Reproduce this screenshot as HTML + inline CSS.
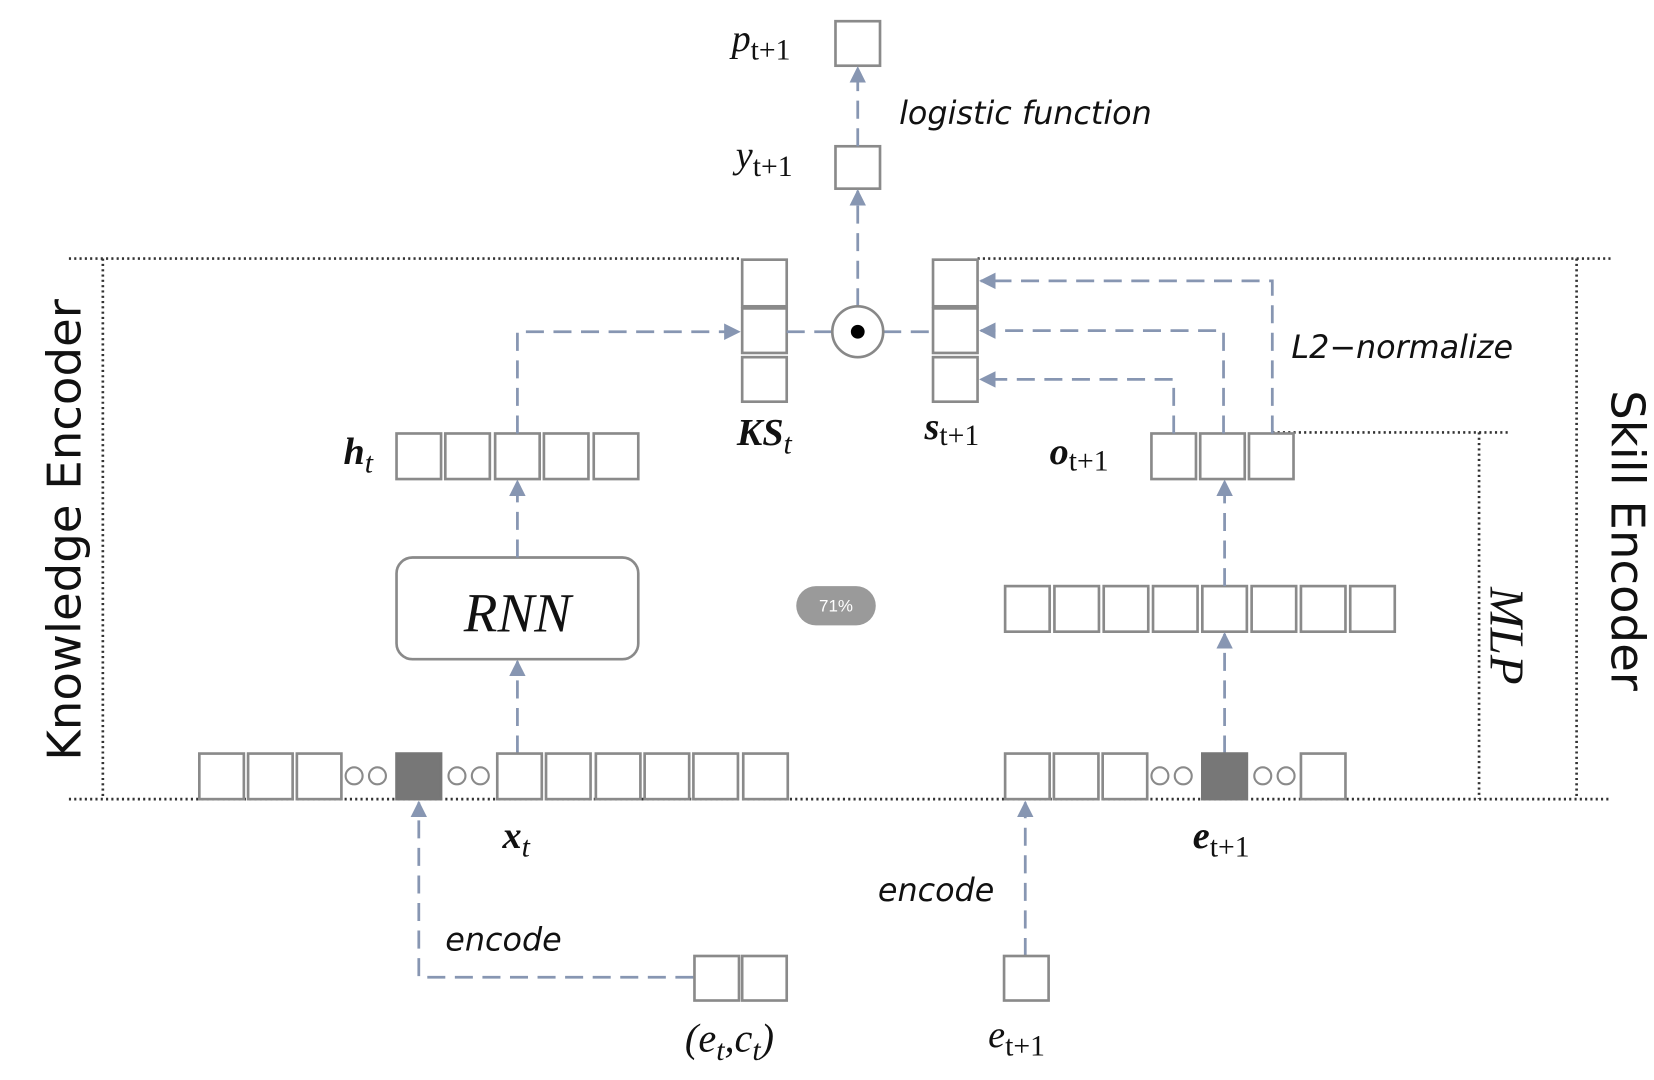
<!DOCTYPE html>
<html><head><meta charset="utf-8"><style>
html,body{margin:0;padding:0;background:#fff;}
svg{display:block;}
.bx{fill:#fff;stroke:#8a8a8a;stroke-width:2.5;}
.ar{stroke:#8796b2;stroke-width:2.6;stroke-dasharray:17 9;fill:none;}
.dot{stroke:#333;stroke-width:2.5;stroke-dasharray:2 3;fill:none;}
.lab{font-family:"Liberation Serif",serif;font-style:italic;fill:#111;}
.sans{font-family:"DejaVu Sans","Liberation Sans",sans-serif;fill:#111;}
</style></head><body>
<svg width="1654" height="1080" viewBox="0 0 1560 1019" preserveAspectRatio="none" xmlns="http://www.w3.org/2000/svg">
<defs><marker id="ah" viewBox="0 0 10 10" refX="9" refY="5" markerWidth="6" markerHeight="6" orient="auto"><path d="M0,0L10,5L0,10z" fill="#8796b2"/></marker></defs>

<g>
<line class="dot" x1="65" y1="244" x2="700" y2="244"/>
<line class="dot" x1="922" y1="244" x2="1520" y2="244"/>
<line class="dot" x1="65" y1="754" x2="1520" y2="754"/>
<line class="dot" x1="97" y1="244" x2="97" y2="754"/>
<line class="dot" x1="1487" y1="244" x2="1487" y2="754"/>
<line class="dot" x1="1200" y1="408" x2="1425" y2="408"/>
<line class="dot" x1="1395" y1="408" x2="1395" y2="754"/>
</g>

<text class="sans" font-size="44" transform="translate(76,500) rotate(-90)" text-anchor="middle">Knowledge Encoder</text>
<text class="sans" font-size="44" transform="translate(1520,510) rotate(90)" text-anchor="middle">Skill Encoder</text>
<text class="lab" font-size="46" transform="translate(1406,600) rotate(90)" text-anchor="middle">MLP</text>

<rect class="bx" x="788" y="20" width="42" height="42"/>
<rect class="bx" x="788" y="138" width="42" height="40"/>
<text class="lab" font-size="36" x="690" y="48">p<tspan font-size="28" dy="8" font-style="normal">t+1</tspan></text>
<text class="lab" font-size="36" x="694" y="158">y<tspan font-size="28" dy="8" font-style="normal">t+1</tspan></text>
<text class="sans" font-style="italic" font-size="30" x="848" y="117">logistic function</text>
<line class="ar" x1="809" y1="138" x2="809" y2="64" marker-end="url(#ah)"/>
<line class="ar" x1="809" y1="289" x2="809" y2="180" marker-end="url(#ah)"/>

<g>
<rect class="bx" x="700" y="245" width="42" height="44"/><rect class="bx" x="700" y="291" width="42" height="42"/><rect class="bx" x="700" y="337" width="42" height="42"/></g>
<g>
<rect class="bx" x="880" y="245" width="42" height="44"/><rect class="bx" x="880" y="291" width="42" height="42"/><rect class="bx" x="880" y="337" width="42" height="42"/></g>
<line class="ar" x1="742" y1="313" x2="785" y2="313"/>
<line class="ar" x1="833" y1="313" x2="880" y2="313"/>
<circle cx="809" cy="313" r="24" fill="#fff" stroke="#888" stroke-width="2.5"/>
<circle cx="809" cy="313" r="6.5" fill="#000"/>
<text class="lab" font-weight="bold" font-size="36" x="695" y="420">KS<tspan font-size="28" dy="8" font-weight="normal">t</tspan></text>
<text class="lab" font-weight="bold" font-size="36" x="872" y="414">s<tspan font-size="28" dy="6" font-weight="normal" font-style="normal">t+1</tspan></text>

<g>
<rect class="bx" x="374" y="409" width="42" height="43"/><rect class="bx" x="420" y="409" width="42" height="43"/><rect class="bx" x="467" y="409" width="42" height="43"/><rect class="bx" x="513" y="409" width="42" height="43"/><rect class="bx" x="560" y="409" width="42" height="43"/></g>
<text class="lab" font-weight="bold" font-size="36" x="324" y="438">h<tspan font-size="28" dy="8" font-weight="normal">t</tspan></text>
<polyline class="ar" points="488,409 488,313 697,313" marker-end="url(#ah)"/>
<rect x="374" y="526" width="228" height="96" rx="15" fill="#fff" stroke="#8a8a8a" stroke-width="2.5"/>
<text class="lab" font-size="52" x="488" y="596" text-anchor="middle">RNN</text>
<line class="ar" x1="488" y1="526" x2="488" y2="454" marker-end="url(#ah)"/>
<line class="ar" x1="488" y1="711" x2="488" y2="624" marker-end="url(#ah)"/>

<g>
<rect class="bx" x="188" y="711" width="42" height="43"/><rect class="bx" x="234" y="711" width="42" height="43"/><rect class="bx" x="280" y="711" width="42" height="43"/>
<circle cx="334" cy="732" r="8" fill="none" stroke="#8a8a8a" stroke-width="2"/><circle cx="356" cy="732" r="8" fill="none" stroke="#8a8a8a" stroke-width="2"/>
<rect x="374" y="711" width="42" height="43" fill="#777" stroke="#777" stroke-width="2.5"/>
<circle cx="431" cy="732" r="8" fill="none" stroke="#8a8a8a" stroke-width="2"/><circle cx="453" cy="732" r="8" fill="none" stroke="#8a8a8a" stroke-width="2"/>
<rect class="bx" x="469" y="711" width="42" height="43"/><rect class="bx" x="515" y="711" width="42" height="43"/><rect class="bx" x="562" y="711" width="42" height="43"/><rect class="bx" x="608" y="711" width="42" height="43"/><rect class="bx" x="654" y="711" width="42" height="43"/><rect class="bx" x="701" y="711" width="42" height="43"/></g>
<text class="lab" font-weight="bold" font-size="36" x="474" y="800">x<tspan font-size="28" dy="8" font-weight="normal">t</tspan></text>
<polyline class="ar" points="654,922 395,922 395,757" marker-end="url(#ah)"/>
<rect class="bx" x="655" y="902" width="42" height="42"/><rect class="bx" x="700" y="902" width="42" height="42"/>
<text class="sans" font-style="italic" font-size="30" x="420" y="897">encode</text>
<text class="lab" font-size="38" x="646" y="992">(e<tspan font-size="28" dy="8">t</tspan><tspan dy="-8">,c</tspan><tspan font-size="28" dy="8">t</tspan><tspan dy="-8">)</tspan></text>

<g>
<rect class="bx" x="1086" y="409" width="42" height="43"/><rect class="bx" x="1132" y="409" width="42" height="43"/><rect class="bx" x="1178" y="409" width="42" height="43"/></g>
<text class="lab" font-weight="bold" font-size="36" x="990" y="438">o<tspan font-size="28" dy="6" font-weight="normal" font-style="normal">t+1</tspan></text>
<polyline class="ar" points="1200,409 1200,265 925,265" marker-end="url(#ah)"/>
<polyline class="ar" points="1154,409 1154,312 925,312" marker-end="url(#ah)"/>
<polyline class="ar" points="1107,409 1107,358 925,358" marker-end="url(#ah)"/>
<text class="sans" font-style="italic" font-size="30" x="1218" y="338">L2−normalize</text>
<g>
<rect class="bx" x="948" y="553" width="42" height="43"/><rect class="bx" x="994.5" y="553" width="42" height="43"/><rect class="bx" x="1041" y="553" width="42" height="43"/><rect class="bx" x="1087.5" y="553" width="42" height="43"/><rect class="bx" x="1134" y="553" width="42" height="43"/><rect class="bx" x="1180.5" y="553" width="42" height="43"/><rect class="bx" x="1227" y="553" width="42" height="43"/><rect class="bx" x="1273.5" y="553" width="42" height="43"/></g>
<line class="ar" x1="1155" y1="553" x2="1155" y2="454" marker-end="url(#ah)"/>
<line class="ar" x1="1155" y1="711" x2="1155" y2="598" marker-end="url(#ah)"/>
<g>
<rect class="bx" x="948" y="711" width="42" height="43"/><rect class="bx" x="994" y="711" width="42" height="43"/><rect class="bx" x="1040" y="711" width="42" height="43"/>
<circle cx="1094" cy="732" r="8" fill="none" stroke="#8a8a8a" stroke-width="2"/><circle cx="1116" cy="732" r="8" fill="none" stroke="#8a8a8a" stroke-width="2"/>
<rect x="1134" y="711" width="42" height="43" fill="#777" stroke="#777" stroke-width="2.5"/>
<circle cx="1191" cy="732" r="8" fill="none" stroke="#8a8a8a" stroke-width="2"/><circle cx="1213" cy="732" r="8" fill="none" stroke="#8a8a8a" stroke-width="2"/>
<rect class="bx" x="1227" y="711" width="42" height="43"/></g>
<text class="lab" font-weight="bold" font-size="36" x="1125" y="800">e<tspan font-size="28" dy="8" font-weight="normal" font-style="normal">t+1</tspan></text>
<line class="ar" x1="967" y1="902" x2="967" y2="757" marker-end="url(#ah)"/>
<rect class="bx" x="947" y="902" width="42" height="42"/>
<text class="sans" font-style="italic" font-size="30" x="828" y="850">encode</text>
<text class="lab" font-size="36" x="932" y="988">e<tspan font-size="28" dy="8" font-style="normal">t+1</tspan></text>

<g>
<rect x="751" y="553" width="75" height="37" rx="18.5" fill="#9a9a9a"/>
<text x="788.5" y="577" text-anchor="middle" font-family="Liberation Sans,sans-serif" font-size="16" fill="#fff">71%</text></g>
</svg>
</body></html>
